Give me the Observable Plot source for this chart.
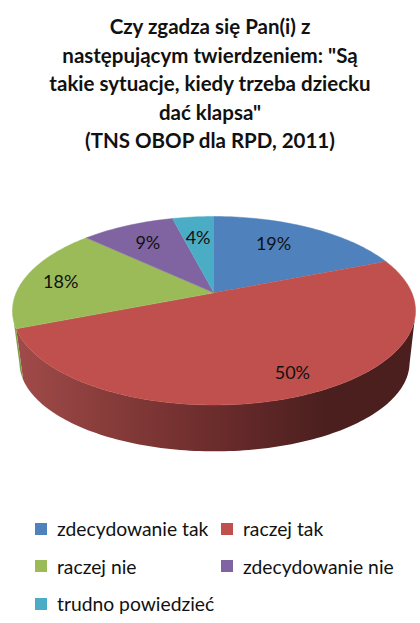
<!DOCTYPE html>
<html lang="pl">
<head>
<meta charset="utf-8">
<script src="https://cdn.jsdelivr.net/npm/d3@7"></script>
<script src="https://cdn.jsdelivr.net/npm/@observablehq/plot@0.6"></script>
<style>
  html, body { margin: 0; padding: 0; background: #fff; }
  body { width: 420px; height: 623px; overflow: hidden; font-family: Lato, "Open Sans", sans-serif; color: #111; }
  #title { height: 180px; box-sizing: border-box; padding-top: 12px; text-align: center; font-weight: 700; font-size: 20.5px; line-height: 28.5px; }
  #chart { height: 290px; }
  #chart svg { display: block; }
  #legend { padding: 40px 0 0 35px; display: grid; grid-template-columns: 186px 1fr; grid-auto-rows: 37.5px; font-size: 19.3px; }
  .item { display: flex; align-items: center; height: 37.5px; }
  .sw { width: 12px; height: 12px; margin-right: 10px; flex: none; }
</style>
</head>
<body>
<div id="title"></div>
<div id="chart"></div>
<div id="legend"></div>
<script>
const titleLines = [
  "Czy zgadza się Pan(i) z",
  "następującym twierdzeniem: \"Są",
  "takie sytuacje, kiedy trzeba dziecku",
  "dać klapsa\"",
  "(TNS OBOP dla RPD, 2011)"
];
const categories = ["zdecydowanie tak", "raczej tak", "raczej nie", "zdecydowanie nie", "trudno powiedzieć"];
const values = [19, 50, 18, 9, 4];
const colors = ["#4f81bd", "#c0504d", "#9bbb59", "#8064a2", "#4bacc6"];

// Layout of the tilted pie, separate from the data
const tilt = -0.19;                        // how far perspective moves the pie's centre up
const labelRadius = [0.68, 0.83, 0.80, 0.71, 0.69];
const labelTurn = [-1.3, -0.7, -0.7, -0.3, -0.1];   // nudge along the circle, in percent of a turn
const sideScale = 0.968, sideShiftX = 0.0025, sideScaleY = 0.942, sideShiftY = 0.55;
const sideFill = {"raczej tak": "url(#sideRed)", "raczej nie": "url(#sideGreen)"};

const total = d3.sum(values);
const shrink = Math.sqrt(1 - tilt * tilt);
function project(theta, r = 1) {
  const u = r * Math.sin(theta), v = -r * Math.cos(theta);
  const d = 1 + tilt * v;
  return {x: u * shrink / d, y: (v + tilt) / d};
}
const cum = d3.cumsum(values);
const slices = categories.map((name, i) => {
  const end = cum[i] / total * 2 * Math.PI;
  const start = (cum[i] - values[i]) / total * 2 * Math.PI;
  return {name, i, value: values[i], start, end};
});
const face = [], side = [];
for (const s of slices) {
  const n = Math.max(8, Math.ceil(s.value * 3));
  const rim = d3.range(n + 1).map((k) => project(s.start + (s.end - s.start) * k / n));
  face.push({key: s.name, x: 0, y: tilt});
  for (const p of rim) face.push({key: s.name, x: p.x, y: p.y});
  const low = rim.filter((p) => p.y >= 0);
  if (low.length > 1) {
    for (const p of low) side.push({key: s.name, x: p.x, y: p.y});
    for (const p of low.slice().reverse())
      side.push({key: s.name, x: sideShiftX + sideScale * p.x, y: sideShiftY + sideScaleY * p.y});
  }
}
const labels = slices.map((s, i) => {
  const p = project((cum[i] - values[i] / 2 + labelTurn[i]) / total * 2 * Math.PI, labelRadius[i]);
  return {x: p.x, y: p.y, text: s.value + "%"};
});

function gradient(id, stops) {
  const g = d3.create("svg:linearGradient").attr("id", id);
  for (const [o, c] of stops) g.append("stop").attr("offset", o).attr("stop-color", c);
  return g.node();
}
const defsMark = () => {
  const defs = d3.create("svg:defs");
  defs.node().append(
    gradient("sideRed", [[0, "#a04b49"], [0.3, "#803836"], [0.55, "#66292a"], [0.78, "#4a1f1e"], [1, "#4a1f1e"]]),
    gradient("sideGreen", [[0, "#86a24c"], [1, "#7c9843"]])
  );
  return defs.node();
};

document.getElementById("title").innerHTML = titleLines.join("<br>");
document.getElementById("chart").append(Plot.plot({
  width: 420, height: 290,
  margin: 0,
  x: {domain: [-1, 1], range: [12, 415], axis: null},
  y: {domain: [-1, 1.5], range: [36, 271.6], axis: null},
  color: {domain: categories, range: colors},
  marks: [
    defsMark,
    ...Object.keys(sideFill).map((name) =>
      Plot.line(side.filter((d) => d.key === name), {x: "x", y: "y", fill: sideFill[name], stroke: "none"})
    ),
    Plot.line(face, {x: "x", y: "y", z: "key", fill: "key", stroke: "key", strokeWidth: 0.5}),
    Plot.text(labels, {x: "x", y: "y", text: "text", fontSize: 18, fontFamily: "Lato", fill: "#111"})
  ]
}));
const legend = document.getElementById("legend");
categories.forEach((name, i) => {
  const item = document.createElement("div");
  item.className = "item";
  const sw = document.createElement("span");
  sw.className = "sw";
  sw.style.background = colors[i];
  item.append(sw, name);
  legend.append(item);
});
</script>
</body>
</html>
